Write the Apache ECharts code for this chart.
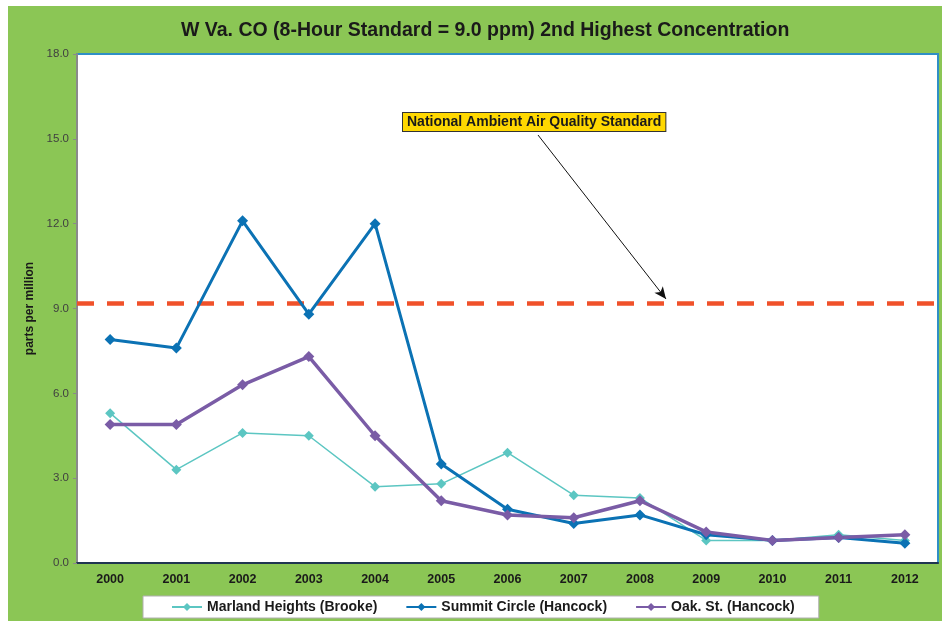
<!DOCTYPE html>
<html>
<head>
<meta charset="utf-8">
<script src="https://cdn.jsdelivr.net/npm/echarts@6/dist/echarts.min.js"></script>
<style>
 html,body{margin:0;padding:0;background:#fff;}
 #main{width:942px;height:621px;}
</style>
</head>
<body>
<div id="main"></div>
<script>
// data
var years = ['2000','2001','2002','2003','2004','2005','2006','2007','2008','2009','2010','2011','2012'];
var marland = [5.3, 3.3, 4.6, 4.5, 2.7, 2.8, 3.9, 2.4, 2.3, 0.8, 0.8, 1.0, 0.8];
var summit  = [7.9, 7.6, 12.1, 8.8, 12.0, 3.5, 1.9, 1.4, 1.7, 1.0, 0.8, 0.9, 0.7];
var oak     = [4.9, 4.9, 6.3, 7.3, 4.5, 2.2, 1.7, 1.6, 2.2, 1.1, 0.8, 0.9, 1.0];
var standardLine = 9.2;
var yTicks = [0, 3, 6, 9, 12, 15, 18];

var myChart = echarts.init(document.getElementById('main'));
var font = 'Liberation Sans, Arial, sans-serif';

var option = {
  backgroundColor: '#fff',
  animation: false,
  textStyle: { fontFamily: font },
  title: {
    text: 'W Va. CO (8-Hour Standard = 9.0 ppm) 2nd Highest Concentration',
    left: 176,
    top: 16,
    textStyle: {
      fontFamily: font,
      fontWeight: 'bold',
      fontSize: 19.5,
      color: '#1a1a1a'
    }
  },
  grid: {
    left: 77, right: 4, top: 54, bottom: 58,
    show: true,
    backgroundColor: '#fff',
    borderColor: '#2f8fc6',
    borderWidth: 2
  },
  legend: {
    bottom: 3,
    left: 143,
    backgroundColor: '#fff',
    borderColor: '#b0b0b0',
    borderWidth: 1,
    borderRadius: 0,
    padding: [4, 24, 4, 28],
    itemGap: 28,
    itemWidth: 30,
    itemHeight: 10,
    textStyle: { fontFamily: font, fontWeight: 'bold', fontSize: 14, color: '#1a1a1a' },
    data: ['Marland Heights (Brooke)', 'Summit Circle (Hancock)', 'Oak. St. (Hancock)']
  },
  xAxis: {
    type: 'category',
    data: years,
    axisTick: { show: false },
    axisLine: { lineStyle: { color: '#1f3550', width: 2 } },
    axisLabel: { interval: 0, margin: 10, fontWeight: 'bold', fontSize: 12.5, color: '#1a1a1a' }
  },
  yAxis: {
    type: 'value',
    min: yTicks[0],
    max: yTicks[yTicks.length - 1],
    interval: 3,
    name: 'parts per million',
    nameLocation: 'middle',
    nameGap: 37,
    nameTextStyle: { fontWeight: 'bold', fontSize: 12, color: '#1a1a1a' },
    splitLine: { show: false },
    axisLine: { show: true, lineStyle: { color: '#8a8a8a', width: 2 } },
    axisTick: { show: true, length: 4, lineStyle: { color: '#8a8a8a' } },
    axisLabel: {
      fontSize: 11.5, color: '#404040', margin: 8,
      formatter: function (v) { return v.toFixed(1); }
    }
  },
  series: [
    {
      name: 'Marland Heights (Brooke)',
      type: 'line',
      data: marland,
      symbol: 'diamond',
      symbolSize: 10,
      color: '#5cc6c2',
      lineStyle: { width: 1.5, color: '#5cc6c2' },
      itemStyle: { color: '#5cc6c2' }
    },
    {
      name: 'Summit Circle (Hancock)',
      type: 'line',
      data: summit,
      symbol: 'diamond',
      symbolSize: 11,
      color: '#0b72b4',
      lineStyle: { width: 3, color: '#0b72b4' },
      itemStyle: { color: '#0b72b4' },
      markLine: {
        silent: true,
        z: 1,
        label: { show: false },
        data: [
          [
            { yAxis: standardLine, x: 77, symbol: 'none', lineStyle: { color: '#f0512a', width: 4.5, type: [17, 13] } },
            { yAxis: standardLine, x: 938, symbol: 'none' }
          ],
          [
            { x: 538, y: 135, symbol: 'none', lineStyle: { color: '#111', width: 1, type: 'solid' } },
            { x: 666, y: 299, symbol: 'arrow', symbolSize: [8, 12] }
          ]
        ]
      }
    },
    {
      name: 'Oak. St. (Hancock)',
      type: 'line',
      data: oak,
      symbol: 'diamond',
      symbolSize: 11,
      color: '#7a5ca6',
      lineStyle: { width: 3.5, color: '#7a5ca6' },
      itemStyle: { color: '#7a5ca6' }
    }
  ],
  graphic: [
    {
      type: 'rect',
      z: -100,
      silent: true,
      shape: { x: 8, y: 6, width: 934, height: 615 },
      style: { fill: '#8bc655' }
    },
    {
      type: 'text',
      z: 100,
      left: 402,
      top: 112,
      style: {
        text: 'National Ambient Air Quality Standard',
        font: 'bold 14px ' + font,
        fill: '#1a1a1a',
        backgroundColor: '#ffd800',
        borderColor: '#333',
        borderWidth: 1,
        padding: [2, 4, 2, 4]
      }
    }
  ]
};

myChart.setOption(option);
window.onresize = myChart.resize;
</script>
</body>
</html>
